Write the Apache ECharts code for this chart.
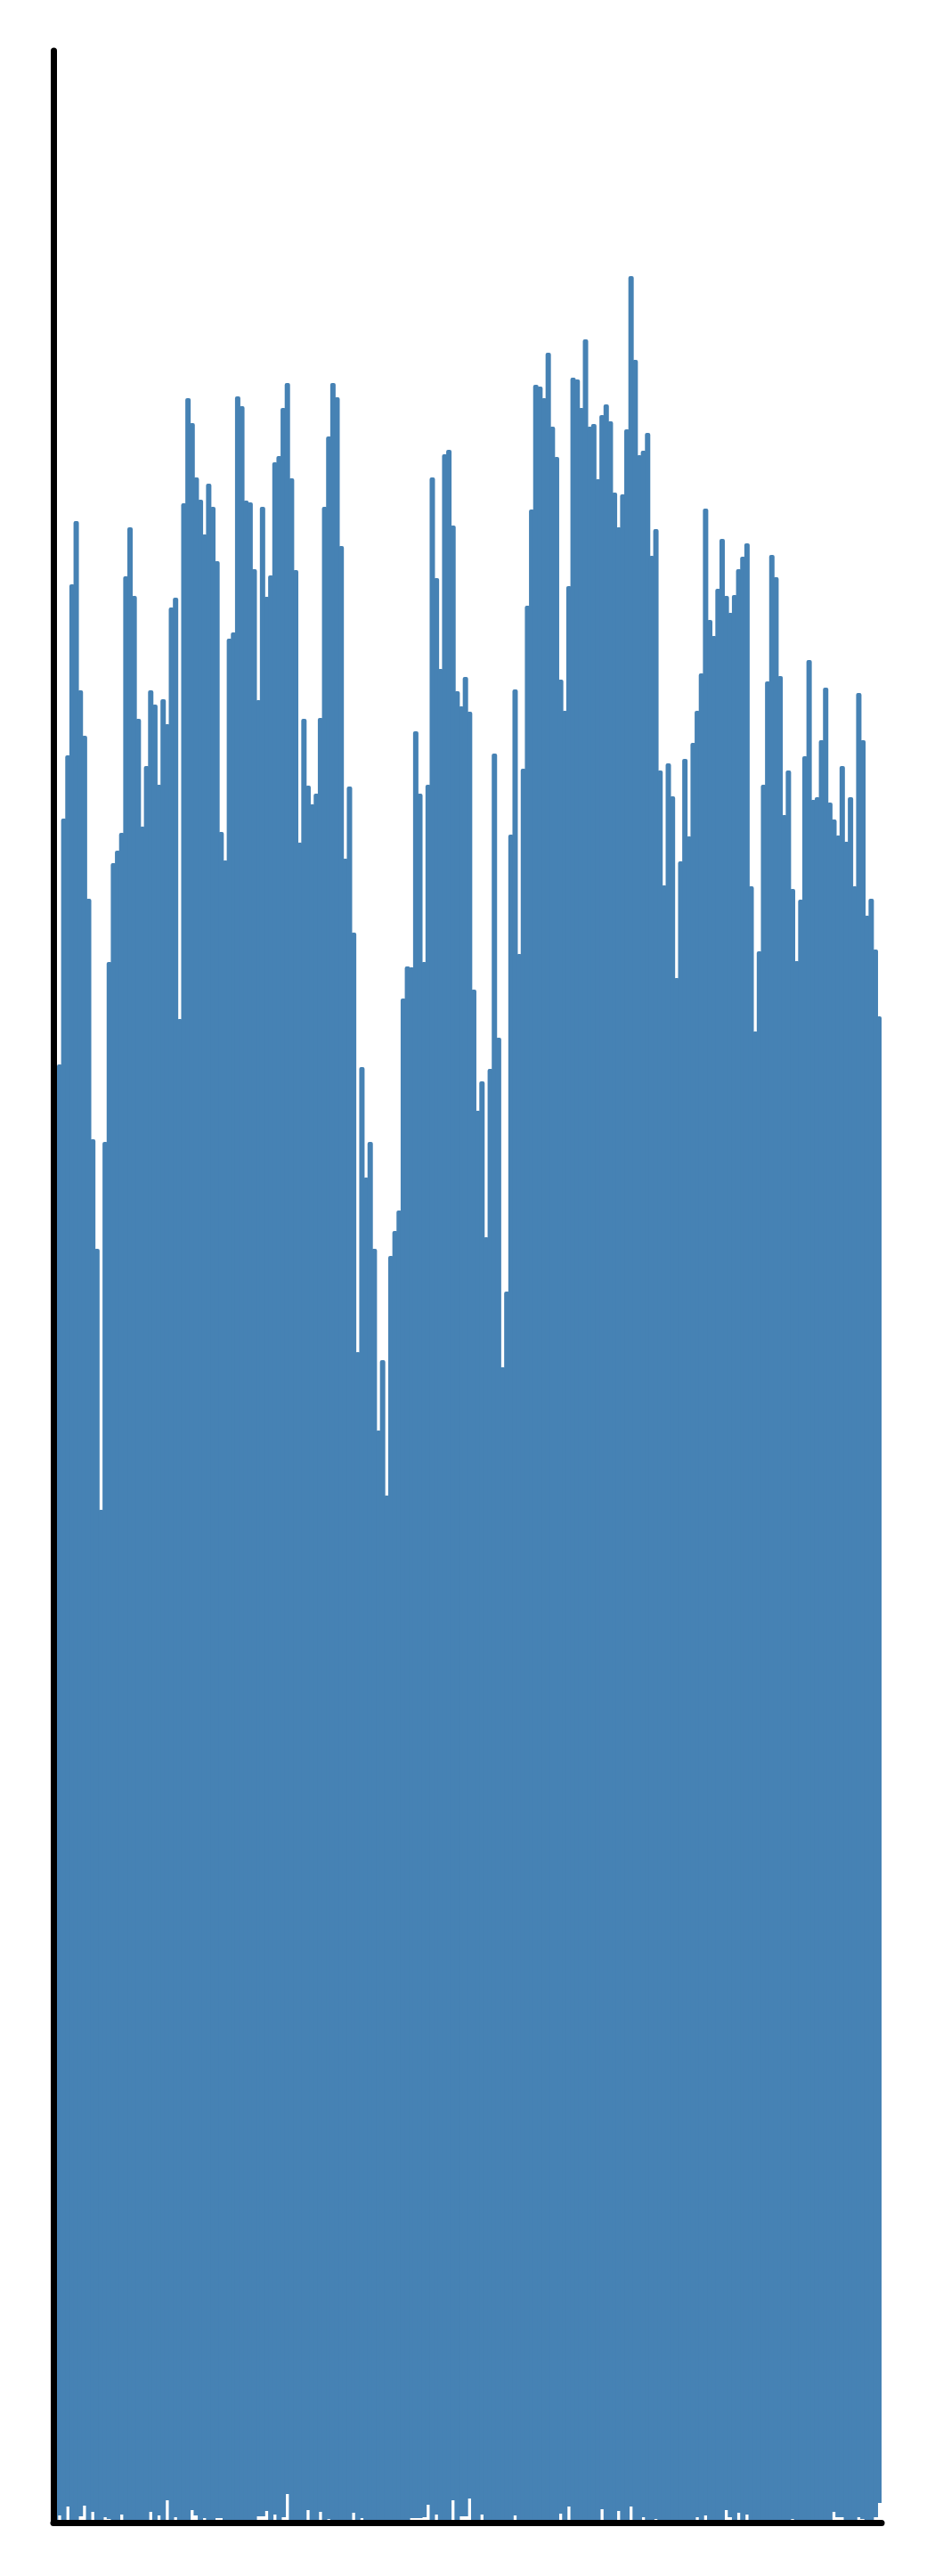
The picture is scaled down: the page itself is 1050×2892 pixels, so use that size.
<!DOCTYPE html>
<html>
<head>
<meta charset="utf-8">
<script src="https://cdn.jsdelivr.net/npm/echarts@6/dist/echarts.min.js"></script>
<style>
  html, body { margin: 0; padding: 0; background: #ffffff; }
  #chart { width: 1050px; height: 2892px; }
</style>
</head>
<body>
<div id="chart"></div>
<script>
// Bar tops (value units)
var highs = [
  1423,1637,1913,1984,2176,2247,2057,2006,1823,1553,
  1430,1137,1550,1752,1863,1877,1897,2185,2240,2163,
  2025,1904,1972,2057,2041,1951,2047,2019,2150,2161,
  1688,2267,2385,2357,2296,2271,2232,2289,2263,2202,
  1898,1866,2115,2122,2387,2376,2270,2268,2193,2046,
  2263,2162,2186,2313,2320,2374,2402,2295,2192,1886,
  2025,1950,1929,1941,2026,2263,2342,2402,2386,2219,
  1868,1949,1785,1314,1634,1510,1550,1430,1226,1305,
  1153,1422,1450,1473,1711,1747,1746,2011,1941,1752,
  1951,2296,2183,2081,2322,2327,2242,2056,2039,2072,
  2033,1721,1585,1618,1443,1632,1986,1667,1297,1382,
  1895,2058,1761,1969,2152,2260,2400,2398,2385,2436,
  2353,2319,2069,2034,2174,2408,2406,2374,2451,2353,
  2356,2294,2366,2378,2359,2279,2240,2277,2350,2522,
  2428,2321,2326,2346,2208,2238,1967,1838,1975,1938,
  1734,1865,1980,1893,1998,2034,2076,2261,2136,2118,
  2171,2227,2163,2144,2164,2193,2207,2222,1837,1674,
  1764,1951,2067,2209,2184,2073,1917,1967,1834,1753,
  1822,1983,2091,1934,1937,2001,2060,1931,1912,1894,
  1972,1887,1937,1837,2054,2001,1804,1823,1766,1691
];
// Bar bottoms (small offsets above the baseline)
var lows = [
  0,8,0,18,0,0,7,19,0,12,
  0,0,6,4,0,0,9,0,0,0,
  0,0,0,12,0,8,0,25,0,6,
  0,0,0,14,8,0,5,0,0,5,
  5,0,0,0,0,0,0,0,0,7,
  7,13,0,9,0,6,32,0,0,0,
  0,14,0,0,12,0,4,0,0,0,
  0,0,11,0,5,0,0,0,0,0,
  0,0,0,0,0,0,5,5,5,6,
  20,0,9,0,0,0,25,0,7,7,
  27,0,0,9,0,0,0,0,0,0,
  0,8,0,0,0,0,0,0,0,0,
  0,0,10,0,18,0,0,0,0,0,
  0,0,15,0,0,0,13,0,0,18,
  0,0,6,0,0,4,0,0,0,0,
  0,0,0,0,0,6,0,8,0,0,
  0,0,14,6,0,11,0,9,0,0,
  0,0,0,0,0,0,0,0,4,0,
  0,0,0,0,0,0,0,0,12,6,
  6,0,0,0,6,4,0,0,6,22
];
var categories = highs.map(function (_, i) { return String(i + 1); });
var yMin = 0;
var yMax = 2775;

var spans = highs.map(function (h, i) { return h - lows[i]; });

var chart = echarts.init(document.getElementById('chart'), null, { renderer: 'canvas' });
chart.setOption({
  animation: false,
  backgroundColor: '#ffffff',
  grid: { left: 60, right: 60, top: 57, bottom: 60, containLabel: false },
  xAxis: {
    type: 'category',
    data: categories,
    boundaryGap: true,
    z: 10,
    axisLine: { show: true, lineStyle: { color: '#000000', width: 7 } },
    axisTick: { show: false },
    axisLabel: { show: false },
    splitLine: { show: false }
  },
  yAxis: {
    type: 'value',
    min: yMin,
    max: yMax,
    z: 10,
    axisLine: { show: true, lineStyle: { color: '#000000', width: 7 } },
    axisTick: { show: false },
    axisLabel: { show: false },
    splitLine: { show: false }
  },
  series: [
    {
      type: 'bar',
      stack: 'b',
      data: lows,
      barWidth: 6,
      itemStyle: { color: 'rgba(255,255,255,0)' },
      silent: true
    },
    {
      type: 'bar',
      stack: 'b',
      data: spans,
      barWidth: 6,
      itemStyle: {
        color: '#4682b4',
        borderRadius: [2, 2, 0, 0]
      }
    }
  ]
});
</script>
</body>
</html>
